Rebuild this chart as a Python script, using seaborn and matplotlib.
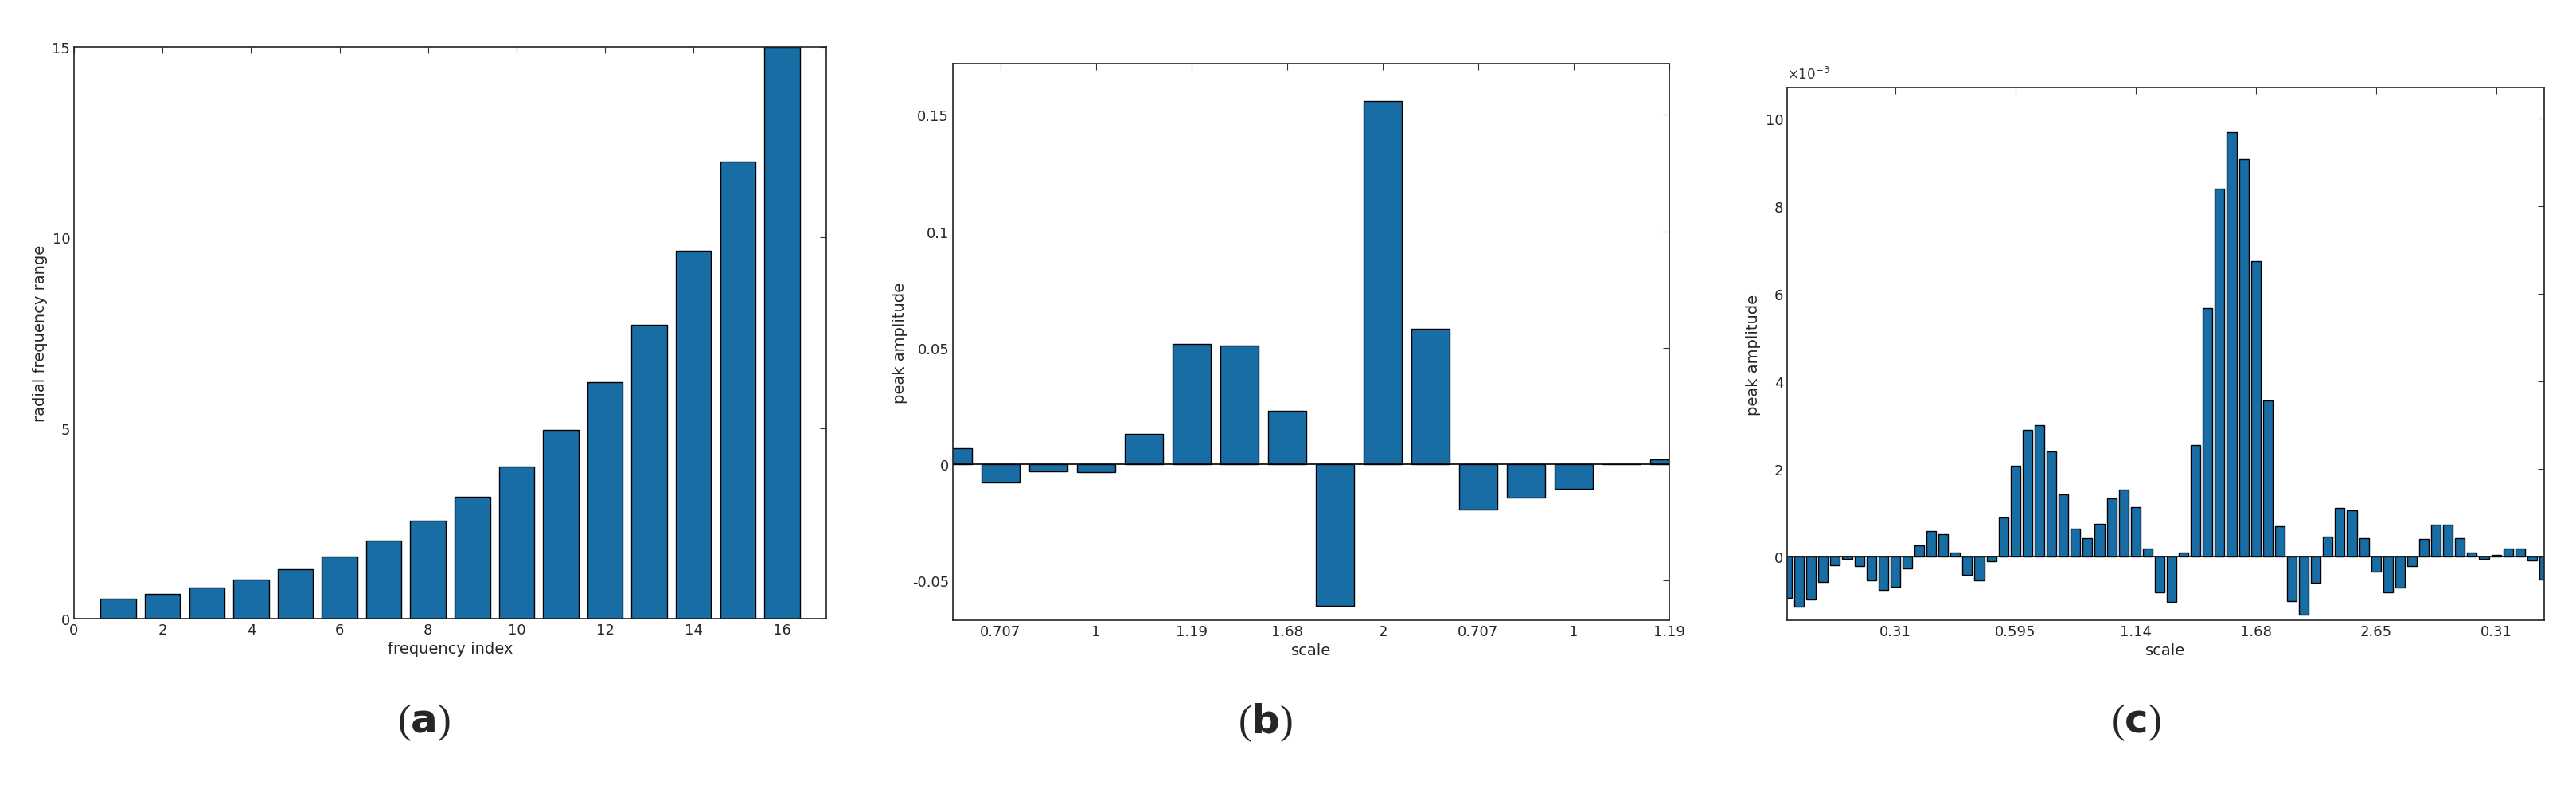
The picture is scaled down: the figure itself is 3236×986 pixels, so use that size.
import matplotlib
matplotlib.use("Agg")
import matplotlib.pyplot as plt
import numpy as np
import pandas as pd
import seaborn as sns

sns.set_style("white")
plt.rcParams['font.family'] = ['DejaVu Sans']

# (a) radial frequency range per frequency index
freq_index = list(range(1, 17))
freq_range = [0.52, 0.65, 0.82, 1.03, 1.3, 1.63, 2.05, 2.57, 3.2, 4.0, 4.95, 6.2, 7.7, 9.65, 12.0, 15.0]

# (b) peak amplitude per scale bin
b_amp = [0.007, -0.008, -0.003, -0.0035, 0.013, 0.0515, 0.051, 0.023, -0.061, 0.156,
         0.058, -0.0195, -0.0145, -0.0105, 0.0, 0.002]
b_ticklabels = ['0.707', '1', '1.19', '1.68', '2', '0.707', '1', '1.19']

# (c) peak amplitude (x 1e-3)
c_amp = [-0.96, -1.15, -0.99, -0.58, -0.2, -0.06, -0.23, -0.55, -0.77, -0.69,
         -0.28, 0.25, 0.58, 0.5, 0.09, -0.42, -0.55, -0.12, 0.88, 2.07,
         2.88, 2.99, 2.39, 1.42, 0.63, 0.42, 0.74, 1.32, 1.53, 1.12,
         0.17, -0.82, -1.04, 0.08, 2.53, 5.66, 8.40, 9.69, 9.07, 6.73,
         3.56, 0.69, -1.02, -1.34, -0.61, 0.44, 1.10, 1.04, 0.42, -0.36,
         -0.82, -0.72, -0.23, 0.39, 0.72, 0.72, 0.42, 0.09, -0.06, 0.03,
         0.17, 0.17, -0.09, -0.54]
c_ticklabels = ['0.31', '0.595', '1.14', '1.68', '2.65', '0.31']

blue = '#0072BD'
W, H = 3236, 987
fig = plt.figure(figsize=(W / 100, H / 100), dpi=100)

def box(l, t, r, b):
    return fig.add_axes([l / W, 1 - b / H, (r - l) / W, (b - t) / H])

def style(ax):
    ax.tick_params(direction='in', top=True, right=True, labelsize=13, length=6, color='#333333')
    for s in ax.spines.values():
        s.set_visible(True)
        s.set_color('#222222')
        s.set_linewidth(1.2)

bar_kw = dict(color=blue, edgecolor='black', linewidth=1.0, native_scale=True, width=0.8)

ax1 = box(93, 60, 1038, 778)
da = pd.DataFrame({'x': freq_index, 'y': freq_range})
sns.barplot(data=da, x='x', y='y', ax=ax1, **bar_kw)
ax1.set_xlim(0, 17)
ax1.set_ylim(0, 15)
ax1.set_xticks(range(0, 17, 2))
ax1.set_yticks([0, 5, 10, 15])
ax1.set_xlabel('frequency index', fontsize=14)
ax1.set_ylabel('radial frequency range', fontsize=14)
style(ax1)

ax2 = box(1197, 81, 2097, 780)
db = pd.DataFrame({'x': np.arange(len(b_amp)), 'y': b_amp})
sns.barplot(data=db, x='x', y='y', ax=ax2, **bar_kw)
ax2.axhline(0, color='black', lw=1.2)
ax2.set_xlim(0, 15)
ax2.set_ylim(-0.067, 0.172)
ax2.set_xticks(range(1, 16, 2))
ax2.set_xticklabels(b_ticklabels)
ax2.set_yticks([-0.05, 0, 0.05, 0.1, 0.15])
ax2.set_yticklabels(['-0.05', '0', '0.05', '0.1', '0.15'])
ax2.set_xlabel('scale', fontsize=14)
ax2.set_ylabel('peak amplitude', fontsize=14)
style(ax2)

ax3 = box(2245, 111, 3196, 780)
dc = pd.DataFrame({'x': np.arange(len(c_amp)), 'y': c_amp})
sns.barplot(data=dc, x='x', y='y', ax=ax3, **bar_kw)
ax3.axhline(0, color='black', lw=1.2)
ax3.set_xlim(0, 63)
ax3.set_ylim(-1.46, 10.7)
ax3.set_xticks(range(9, 60, 10))
ax3.set_xticklabels(c_ticklabels)
ax3.set_yticks(range(0, 11, 2))
ax3.set_xlabel('scale', fontsize=14)
ax3.set_ylabel('peak amplitude', fontsize=14)
ax3.text(0, 1.01, r'$\times10^{-3}$', transform=ax3.transAxes, fontsize=12, color='#333333', va='bottom')
style(ax3)

for x, lab in [(532, 'a'), (1589, 'b'), (2683, 'c')]:
    fig.text(x / W, 1 - 908 / H, '(' + r'$\mathbf{' + lab + '}$' + ')', ha='center', va='center',
             fontsize=36, family='Liberation Serif')

fig.savefig('out.png', dpi=100)
